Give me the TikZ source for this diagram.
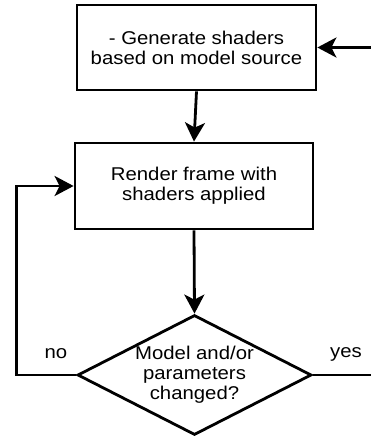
\documentclass[tikz,border=0pt]{standalone}
\usepackage{fontspec}
\setmainfont{Liberation Sans}[FakeStretch=1.1]
\usetikzlibrary{arrows.meta, positioning, shapes.geometric}

\begin{document}
\begin{tikzpicture}[x=1pt, y=-1pt,
    every node/.style={font=\fontsize{18.5}{20}\selectfont},
    procbox/.style={draw, line width=2.8pt, align=center, inner sep=0pt,
        minimum width=239pt, minimum height=85pt},
    decision/.style={draw, diamond, aspect=2, line width=2.8pt, align=center,
        inner sep=0pt, minimum width=234pt, minimum height=120pt},
    flow/.style={line width=2.8pt, -{Stealth[length=19pt, width=20pt, inset=5pt]}}]
\useasboundingbox (0,0) rectangle (371,439);
\clip (0,0) rectangle (371,439);
\node[procbox] (gen) at (196.5,47.5) {- Generate shaders\\based on model source};
\node[procbox, minimum width=238pt, minimum height=86pt] (render) at (194,186)
    {Render frame with\\shaders applied};
\node[decision] (check) at (194.5,375) {Model and/or\\parameters\\changed?};
\node (nolbl) at (56,354) {no};
\node (yeslbl) at (346,354) {yes};
\coordinate (noturn) at (16.5,375);
\coordinate (yesturn) at (376,375);
\draw[flow] (gen.south) -- (render.north);
\draw[flow] (render.south) -- (check.north);
\draw[flow] (check.west) -- (noturn) |- (render.west);
\draw[flow] (check.east) -- (yesturn) |- (gen.east);
\end{tikzpicture}
\end{document}
